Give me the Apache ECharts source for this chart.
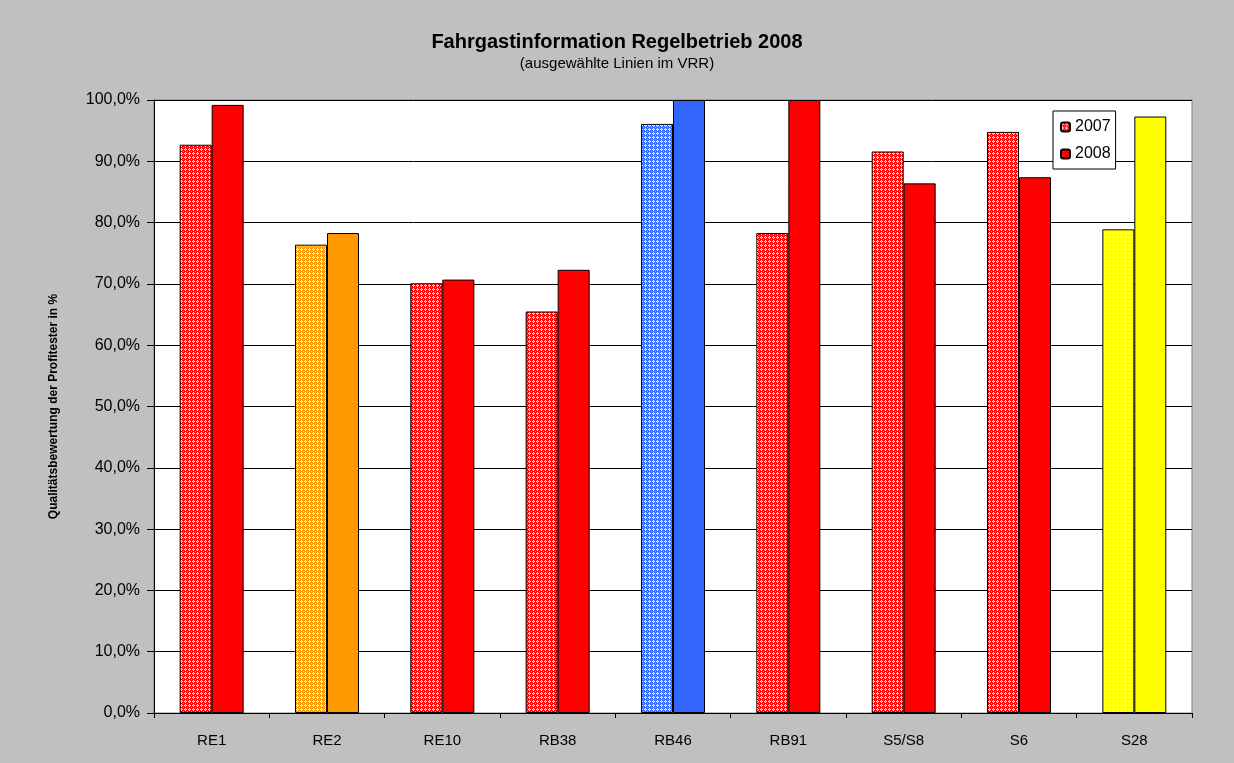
<!DOCTYPE html>
<html>
<head>
<meta charset="utf-8">
<script src="https://cdn.jsdelivr.net/npm/echarts@6/dist/echarts.min.js"></script>
<style>
html,body{margin:0;padding:0;background:#fff;}
#c{width:1234px;height:763px;background:#c0c0c0;}
</style>
</head>
<body>
<div id="c"></div>
<script>
const categories = ['RE1','RE2','RE10','RB38','RB46','RB91','S5/S8','S6','S28'];
const values2007 = [92.7, 76.4, 70.1, 65.5, 96.1, 78.3, 91.6, 94.8, 78.9];
const values2008 = [99.2, 78.3, 70.7, 72.3, 100.0, 100.0, 86.4, 87.4, 97.3];
const barColors = ['#FF0000','#FF9900','#FF0000','#FF0000','#3366FF','#FF0000','#FF0000','#FF0000','#FFFF00'];
const yTicks = [0,10,20,30,40,50,60,70,80,90,100];

function pattern(color){
  const c = document.createElement('canvas');
  c.width = 4; c.height = 4;
  const g = c.getContext('2d');
  g.fillStyle = color; g.fillRect(0,0,4,4);
  g.fillStyle = '#ffffff';
  g.fillRect(1,0,1,1); g.fillRect(0,1,1,1); g.fillRect(2,1,1,1); g.fillRect(1,2,1,1);
  g.fillStyle = 'rgba(255,255,255,0.5)';
  g.fillRect(3,3,1,1); g.fillRect(1,1,1,1);
  return {image: c, repeat: 'repeat'};
}

const chart = echarts.init(document.getElementById('c'));
const font = 'Liberation Sans, Arial, sans-serif';
chart.setOption({
  backgroundColor: '#c0c0c0',
  animation: false,
  title: {
    text: 'Fahrgastinformation Regelbetrieb 2008',
    subtext: '(ausgewählte Linien im VRR)',
    left: 'center', top: 27, itemGap: 4,
    textStyle: {fontFamily: font, fontSize: 20, fontWeight: 'bold', color: '#000'},
    subtextStyle: {fontFamily: font, fontSize: 15, color: '#000'}
  },
  legend: {
    orient: 'vertical',
    left: 1053, top: 111,
    itemWidth: 9, itemHeight: 9, itemGap: 11,
    padding: [8, 5, 7, 7],
    backgroundColor: '#fff', borderColor: '#000', borderWidth: 1,
    textStyle: {fontFamily: font, fontSize: 16, color: '#000'},
    data: ['2007','2008']
  },
  grid: {left: 154, right: 42, top: 100, bottom: 50, show: true, backgroundColor: '#fff', borderColor: '#808080', borderWidth: 1},
  xAxis: {
    type: 'category', data: categories,
    axisLine: {lineStyle: {color: '#000'}},
    axisTick: {show: true, length: 5, lineStyle: {color: '#000'}},
    axisLabel: {fontFamily: font, fontSize: 15, color: '#000', margin: 20}
  },
  yAxis: {
    type: 'value', min: 0, max: 100, interval: 10,
    name: 'Qualitätsbewertung der Profitester in %',
    nameLocation: 'middle', nameGap: 94, nameRotate: 90,
    nameTextStyle: {fontFamily: font, fontSize: 12, fontWeight: 'bold', color: '#000'},
    axisLine: {show: true, lineStyle: {color: '#000'}},
    axisTick: {show: true, length: 7, lineStyle: {color: '#000'}},
    axisLabel: {fontFamily: font, fontSize: 16, color: '#000', margin: 14,
      formatter: v => v.toFixed(1).replace('.', ',') + '%'},
    splitLine: {show: true, lineStyle: {color: '#000', width: 1}}
  },
  series: [
    {
      name: '2007', type: 'bar', barWidth: 32, barGap: '0%',
      itemStyle: {color: pattern('#FF0000'), borderColor: '#000', borderWidth: 1},
      data: values2007.map((v,i) => ({value: v, itemStyle: {color: pattern(barColors[i])}}))
    },
    {
      name: '2008', type: 'bar', barWidth: 32,
      itemStyle: {color: '#FF0000', borderColor: '#000', borderWidth: 1},
      data: values2008.map((v,i) => ({value: v, itemStyle: {color: barColors[i]}}))
    }
  ]
});
</script>
</body>
</html>
